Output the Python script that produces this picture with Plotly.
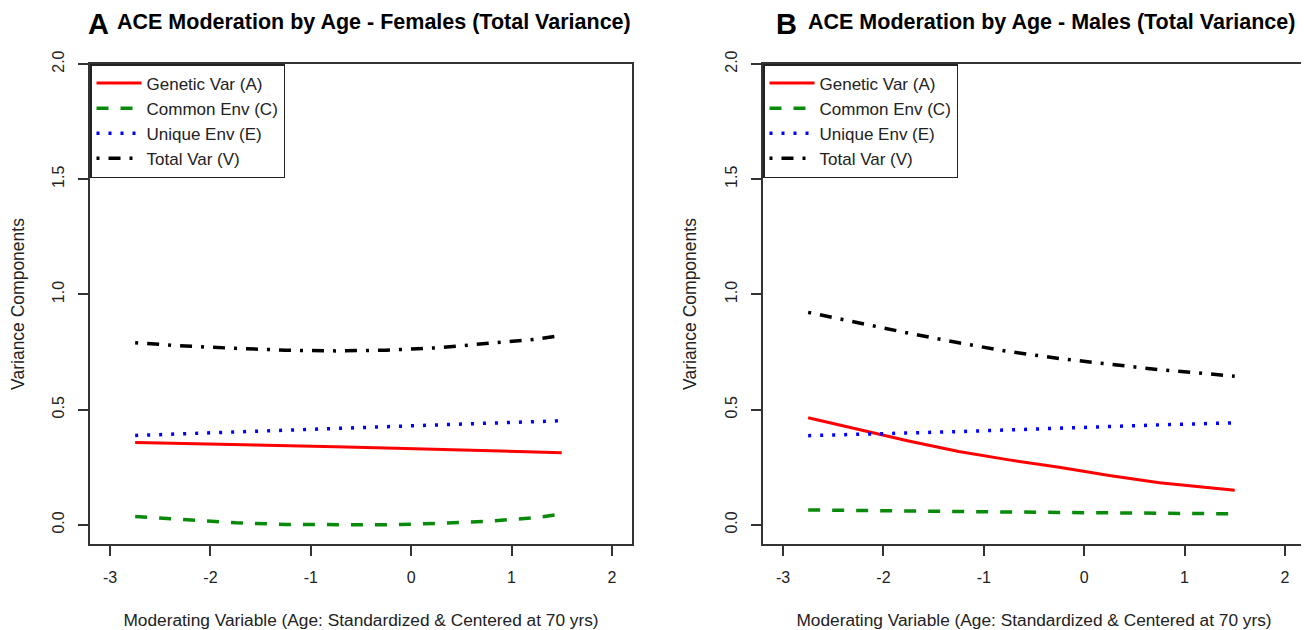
import plotly.graph_objects as go

# ---------------- data ----------------
age_x = [-2.75, -2.25, -1.75, -1.25, -0.75, -0.25, 0.25, 0.75, 1.25, 1.5]

fem_A = [0.358, 0.354, 0.349, 0.344, 0.339, 0.334, 0.328, 0.322, 0.316, 0.313]
fem_C = [0.036, 0.022, 0.009, 0.002, 0.000, 0.000, 0.006, 0.015, 0.032, 0.047]
fem_E = [0.388, 0.396, 0.403, 0.411, 0.418, 0.426, 0.434, 0.441, 0.448, 0.452]
fem_V = [0.790, 0.776, 0.766, 0.758, 0.755, 0.758, 0.768, 0.788, 0.806, 0.822]

male_A = [0.465, 0.414, 0.364, 0.318, 0.282, 0.250, 0.214, 0.183, 0.162, 0.150]
male_C = [0.065, 0.062, 0.060, 0.058, 0.056, 0.054, 0.053, 0.051, 0.049, 0.048]
male_E = [0.387, 0.392, 0.398, 0.405, 0.412, 0.420, 0.428, 0.434, 0.440, 0.443]
male_V = [0.922, 0.876, 0.832, 0.790, 0.752, 0.722, 0.697, 0.673, 0.655, 0.645]

series_names = ["Genetic Var (A)", "Common Env (C)", "Unique Env (E)", "Total Var (V)"]
x_ticks = [-3, -2, -1, 0, 1, 2]
y_ticks = [0.0, 0.5, 1.0, 1.5, 2.0]
y_tick_text = ["0.0", "0.5", "1.0", "1.5", "2.0"]

panel_letters = ["A", "B"]
panel_titles = ["ACE Moderation by Age - Females (Total Variance)",
                "ACE Moderation by Age - Males (Total Variance)"]
x_title = "Moderating Variable (Age: Standardized & Centered at 70 yrs)"
y_title = "Variance Components"

# ---------------- styling ----------------
# the page body has an 8px margin, so the figure is laid out in page pixels minus 8
OFF = 8
W, H = 1309 - OFF, 630 - OFF
FONT = "Liberation Sans, Arial, sans-serif"
styles = [
    dict(color="#FF0000", width=3, dash="solid"),
    dict(color="#0A8A0A", width=3.5, dash="12px,12px"),
    dict(color="#0000FF", width=3.5, dash="3px,9px"),
    dict(color="#000000", width=3.5, dash="3px,9px,12px,9px"),
]

fig = go.Figure()
panels = [
    ([fem_A, fem_C, fem_E, fem_V], "x", "y", "legend"),
    ([male_A, male_C, male_E, male_V], "x2", "y2", "legend2"),
]
for vals, xa, ya, lg in panels:
    for name, yv, st in zip(series_names, vals, styles):
        fig.add_trace(go.Scatter(
            x=age_x, y=yv, mode="lines", name=name,
            line=st, xaxis=xa, yaxis=ya, legend=lg, hoverinfo="skip"))


def px_x(p):
    return (p - OFF) / W


def px_y(p):
    return 1 - (p - OFF) / H


box_l = [90, 763]
box_r = [632, 1305]
box_t, box_b = 64, 544

axcol = "#333333"
common_x = dict(range=[-3.2, 2.2], tickvals=x_ticks, ticktext=[str(v) for v in x_ticks],
                showgrid=False, zeroline=False, showline=True, mirror=True,
                linecolor=axcol, linewidth=1.5, ticks="outside", ticklen=10,
                tickwidth=1.5, tickcolor=axcol, ticklabelstandoff=8, automargin=False,
                tickfont=dict(family=FONT, size=16, color="#222"),
                title=dict(text=x_title, font=dict(family=FONT, size=17.3, color="#222"),
                           standoff=30))
common_y = dict(range=[-0.083, 2.0], tickvals=y_ticks, ticktext=y_tick_text,
                showgrid=False, zeroline=False, showline=True, mirror=True,
                linecolor=axcol, linewidth=1.5, ticks="outside", ticklen=10,
                tickwidth=1.5, tickcolor=axcol, tickangle=-90, ticklabelstandoff=8,
                automargin=False,
                tickfont=dict(family=FONT, size=16, color="#222"),
                title=dict(text=y_title, font=dict(family=FONT, size=17.5, color="#222"),
                           standoff=22))

fig.update_layout(
    width=W, height=H, autosize=False,
    margin=dict(l=0, r=0, t=0, b=0, pad=0, autoexpand=False),
    paper_bgcolor="white", plot_bgcolor="white",
    xaxis=dict(domain=[px_x(box_l[0]), px_x(box_r[0])], anchor="y", **common_x),
    yaxis=dict(domain=[px_y(box_b), px_y(box_t)], anchor="x", **common_y),
    xaxis2=dict(domain=[px_x(box_l[1]), px_x(box_r[1])], anchor="y2", **common_x),
    yaxis2=dict(domain=[px_y(box_b), px_y(box_t)], anchor="x2", **common_y),
)

leg_common = dict(xref="paper", yref="paper", xanchor="left", yanchor="top",
                  bgcolor="white", bordercolor="#222", borderwidth=1.5,
                  font=dict(family=FONT, size=17, color="#222"),
                  itemwidth=45, tracegroupgap=0)
fig.update_layout(
    legend=dict(x=px_x(box_l[0]), y=px_y(box_t), **leg_common),
    legend2=dict(x=px_x(box_l[1]), y=px_y(box_t), **leg_common),
    showlegend=True,
)

letter_cx = [99, 786]
title_cx = [374, 1051]
for i in range(2):
    fig.add_annotation(text="<b>%s</b>" % panel_letters[i], x=px_x(letter_cx[i]), y=px_y(24),
                       xref="paper", yref="paper", xanchor="center", yanchor="middle",
                       showarrow=False, font=dict(family=FONT, size=29, color="black"))
    fig.add_annotation(text="<b>%s</b>" % panel_titles[i], x=px_x(title_cx[i]), y=px_y(22),
                       xref="paper", yref="paper", xanchor="center", yanchor="middle",
                       showarrow=False, font=dict(family=FONT, size=21.5, color="black"))

fig.write_html("out.html")
